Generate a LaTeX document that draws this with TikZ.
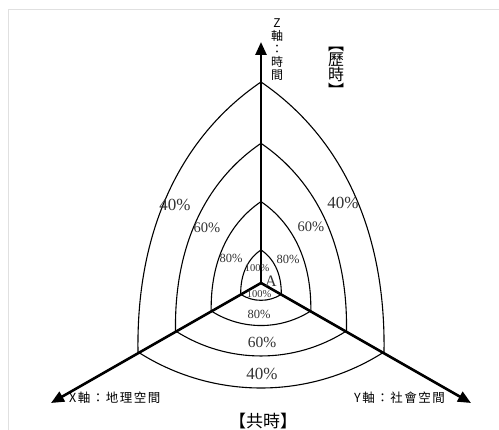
\documentclass[tikz,border=0pt]{standalone}
\usepackage{fontspec}
\setmainfont{Liberation Serif}
\newfontfamily\cjk{Noto Sans CJK TC}
\newfontfamily\cjkwide{Noto Sans CJK TC}[LetterSpace=12]
\usetikzlibrary{arrows.meta}
\begin{document}
\begin{tikzpicture}[x=1pt,y=-1pt,
  ring/.style={line width=1.1pt, black},
  axisline/.style={line width=2.6pt, -{Triangle[length=13pt,width=11pt]}},
  pct/.style={text=black!80, inner sep=0pt},
  cjklabel/.style={inner sep=0pt, font=\cjkwide\fontsize{12.5}{13}\selectfont},
  frameline/.style={draw=black!12, line width=0.7pt}
  ]
\useasboundingbox (0,0) rectangle (499,430);
% faint frame of the screenshot
\coordinate (f1) at (8,430);
\coordinate (f2) at (8,9);
\coordinate (f3) at (499,9);
\draw[frameline] (f1) -- (f2) -- (f3);

% rings
\begin{scope}[shift={(261,283)}, yscale=-1]
  \foreach \s in {1,0.695,0.405,0.165}{
    \draw[ring, scale=\s] (0,201) .. controls (-75,150) and (-125,60) .. (-123,-69)
      .. controls (-48,-117) and (48,-117) .. (123,-69)
      .. controls (125,60) and (75,150) .. (0,201) -- cycle;
  }
\end{scope}

% axes
\coordinate (O) at (261,283);
\coordinate (Zt) at (261,42);
\coordinate (Xt) at (51,403);
\coordinate (Yt) at (471,403);
\draw[axisline] (O) -- (Zt);
\draw[axisline] (O) -- (Xt);
\draw[axisline] (O) -- (Yt);

% percentage labels
\node[pct, font=\fontsize{17}{17}\selectfont] (p40l) at (175,205) {40\%};
\node[pct, font=\fontsize{17}{17}\selectfont] (p40r) at (343,203) {40\%};
\node[pct, font=\fontsize{14.5}{14.5}\selectfont] (p60l) at (207,228) {60\%};
\node[pct, font=\fontsize{14.5}{14.5}\selectfont] (p60r) at (311,227) {60\%};
\node[pct, font=\fontsize{12.5}{12.5}\selectfont] (p80l) at (231,258) {80\%};
\node[pct, font=\fontsize{12.5}{12.5}\selectfont] (p80r) at (288,259) {80\%};
\node[pct, font=\fontsize{10.5}{10.5}\selectfont] (p100t) at (257,268) {100\%};
\node[pct, font=\fontsize{10.5}{10.5}\selectfont] (p100b) at (259,294) {100\%};
\node[pct, font=\fontsize{12.5}{12.5}\selectfont] (p80b) at (259,314) {80\%};
\node[pct, font=\fontsize{15.5}{15.5}\selectfont] (p60b) at (262,342) {60\%};
\node[pct, font=\fontsize{17}{17}\selectfont] (p40b) at (262,374) {40\%};
\node[pct, font=\fontsize{16}{16}\selectfont] (A) at (271,281) {A};

% axis labels
\node[inner sep=0pt, align=center, font=\cjk\fontsize{12}{13}\selectfont] (zlab) at (277,50) {Z\\軸\\：\\時\\間};
\node[cjklabel, anchor=west] (xlab) at (69,398) {X軸：地理空間};
\node[cjklabel, anchor=east] (ylab) at (445,398) {Y軸：社會空間};

% era labels
\node[inner sep=0pt, align=center, font=\cjk\fontsize{16}{14.5}\selectfont] (lishi) at (336,72) {︻\\歷\\時\\︼};
\node[inner sep=0pt, font=\cjk\fontsize{17}{17}\selectfont] (gongshi) at (263,421) {【共時】};
\end{tikzpicture}
\end{document}
